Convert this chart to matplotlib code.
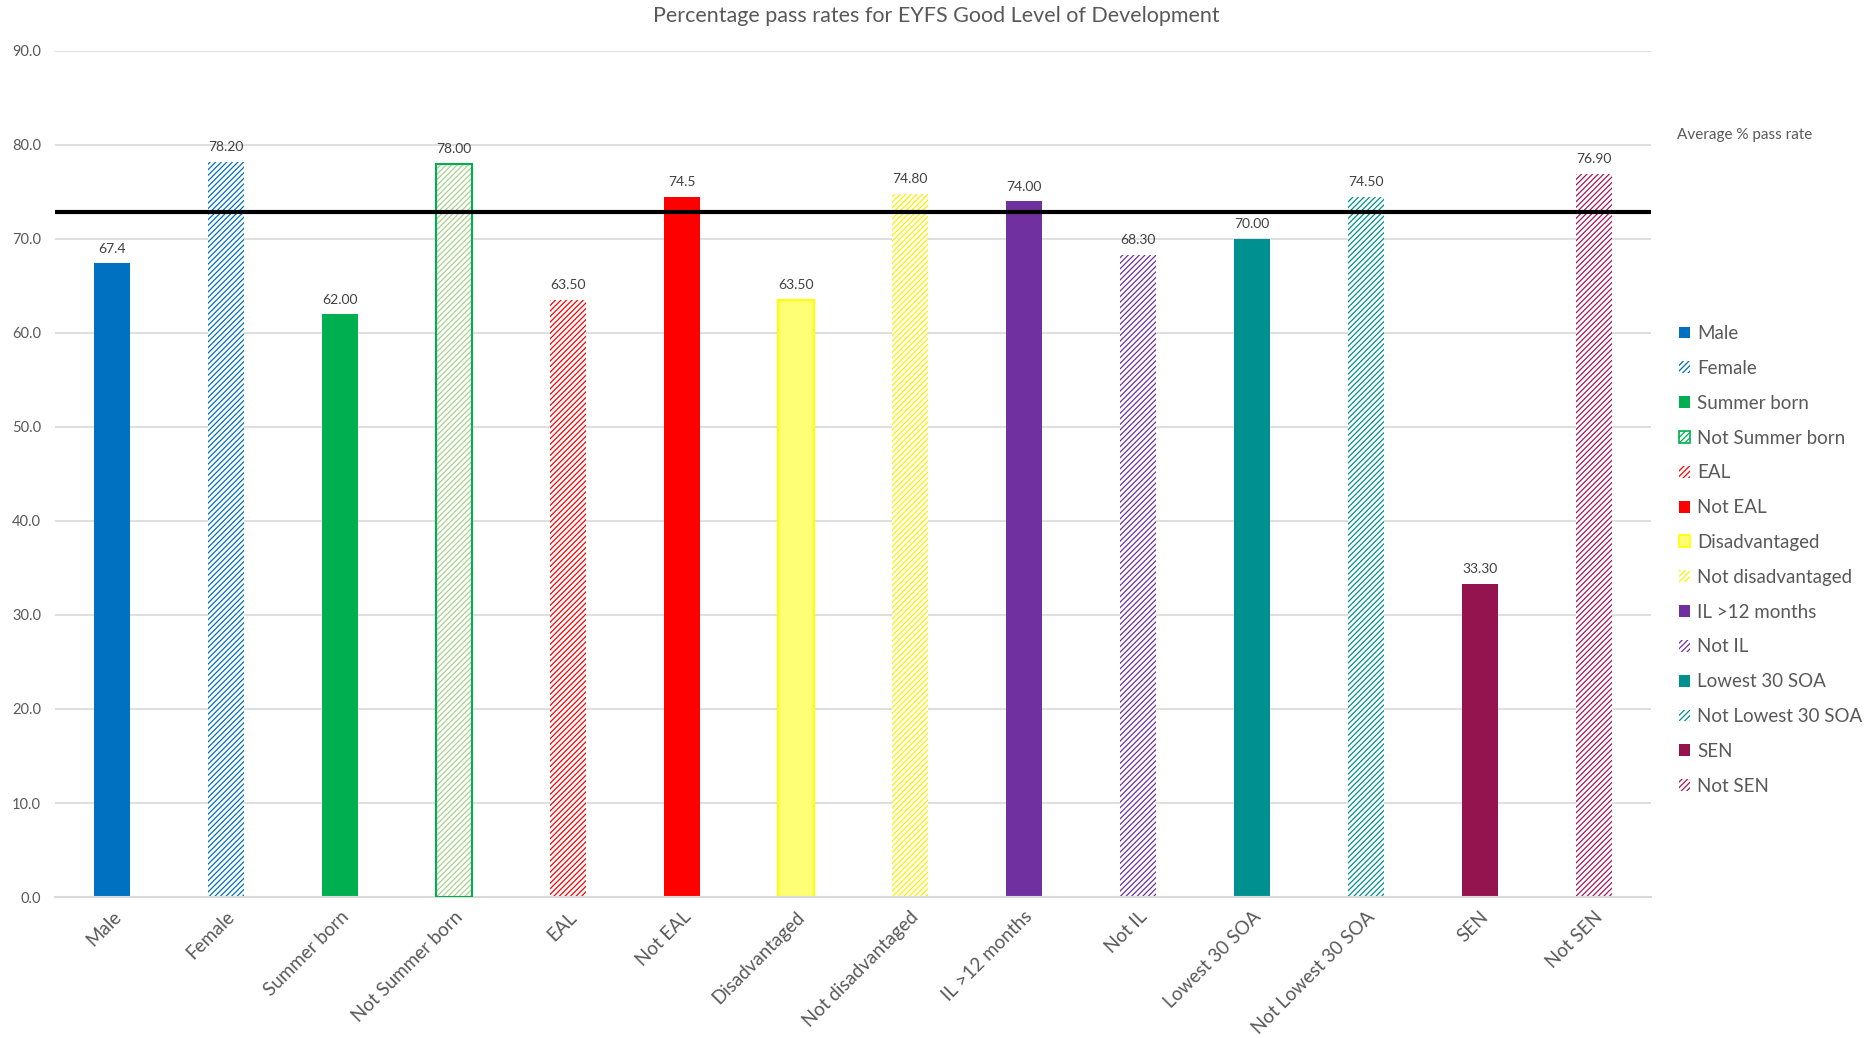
import matplotlib
matplotlib.use("Agg")
import matplotlib.pyplot as plt
from matplotlib.patches import Patch

plt.rcParams['font.family'] = ['Lato', 'DejaVu Sans']
plt.rcParams['hatch.linewidth'] = 0.9

categories = ["Male", "Female", "Summer born", "Not Summer born", "EAL", "Not EAL",
              "Disadvantaged", "Not disadvantaged", "IL >12 months", "Not IL",
              "Lowest 30 SOA", "Not Lowest 30 SOA", "SEN", "Not SEN"]
pass_rates = [67.4, 78.2, 62.0, 78.0, 63.5, 74.5, 63.5, 74.8, 74.0, 68.3, 70.0, 74.5, 33.3, 76.9]
label_decimals = [1, 2, 2, 2, 2, 1, 2, 2, 2, 2, 2, 2, 2, 2]
average_rate = 72.9

colours = ["#0070C0", "#0070C0", "#00B050", "#A9D18E", "#FF0000", "#FF0000",
           "#FFFF75", "#FFF000", "#7030A0", "#7030A0", "#009090", "#009090",
           "#93144F", "#A3185A"]
hatched = [False, True, False, True, True, False, False, True, False, True, False, True, False, True]
outline = {3: "#00B050", 6: "#FFFF00"}

grey = "#595959"

fig = plt.figure(figsize=(18.72, 10.38), dpi=100)
ax = fig.add_axes([0.0294, 0.1358, 0.8525, 0.8153])

x = range(len(categories))
width = 0.31
handles = []
for i, (cat, val) in enumerate(zip(categories, pass_rates)):
    c = colours[i]
    if hatched[i]:
        ax.bar(i, val, width, color="white", edgecolor=c, linewidth=0, hatch="//////", zorder=2)
        if i in outline:
            ax.bar(i, val, width, fill=False, edgecolor=outline[i], linewidth=1.5, zorder=3)
        h = Patch(facecolor="white", edgecolor=outline.get(i, c), hatch="//////",
                  linewidth=1.2 if i in outline else 0)
    else:
        ax.bar(i, val, width, color=c, edgecolor=outline.get(i, c),
               linewidth=1.5 if i in outline else 0, zorder=2)
        h = Patch(facecolor=c, edgecolor=outline.get(i, c),
                  linewidth=1.2 if i in outline else 0)
    handles.append(h)
    ax.text(i, val + 0.9, f"{val:.{label_decimals[i]}f}", ha="center", va="bottom",
            fontsize=10, color="#404040", zorder=4)

ax.axhline(average_rate, color="black", linewidth=3, zorder=3)

ax.set_xlim(-0.5, len(categories) - 0.5)
ax.set_ylim(0, 90)
ax.set_yticks(range(0, 91, 10))
ax.set_yticklabels([f"{v:.1f}" for v in range(0, 91, 10)], fontsize=10.5, color=grey)
ax.set_xticks(list(x))
ax.set_xticklabels(categories, rotation=45, ha="right", rotation_mode="anchor",
                   fontsize=13.5, color=grey)
ax.tick_params(length=0)
ax.tick_params(axis="x", pad=8)
ax.tick_params(axis="y", pad=10)
ax.grid(axis="y", color="#D9D9D9", linewidth=1.2, zorder=0)
ax.set_axisbelow(True)
for s in ["top", "right", "left"]:
    ax.spines[s].set_visible(False)
ax.spines["bottom"].set_color("#D9D9D9")
ax.spines["bottom"].set_linewidth(1.5)

fig.text(0.5, 0.985, "Percentage pass rates for EYFS Good Level of Development",
         fontsize=15.5, color=grey, ha="center", va="center")

fig.text(0.8958, 0.870, "Average % pass rate", fontsize=11, color=grey, va="center")

fig.legend(handles, categories, loc="upper left", bbox_to_anchor=(0.893, 0.694),
           frameon=False, fontsize=13.5, labelcolor=grey, handlelength=0.6,
           handleheight=0.6, handletextpad=0.35, labelspacing=0.95, borderaxespad=0)

fig.savefig("out.png", dpi=100)
